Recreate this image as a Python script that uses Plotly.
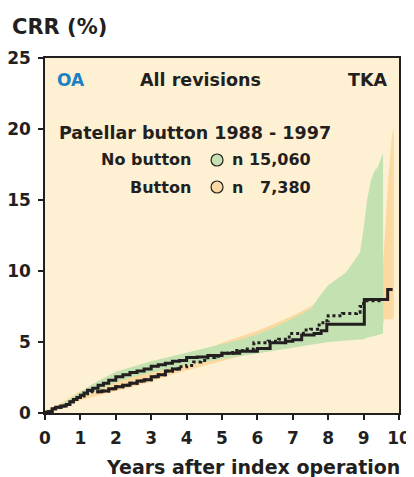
import plotly.graph_objects as go

# ---- data ----
# No button: 95% band (green)
nb_band_x = [0, 0.5, 1, 1.5, 2, 2.5, 3, 3.5, 4, 4.5, 5, 5.5, 6, 6.5, 7, 7.5, 7.75, 8, 8.5, 8.9, 9.0, 9.1, 9.2, 9.3, 9.4, 9.5, 9.55]
nb_band_hi = [0.1, 0.65, 1.5, 2.25, 2.9, 3.3, 3.65, 3.95, 4.25, 4.5, 4.8, 5.15, 5.55, 6.05, 6.65, 7.3, 8.2, 9.0, 9.9, 11.3, 13.0, 15.0, 16.3, 17.0, 17.3, 18.0, 18.3]
nb_band_lo = [0.0, 0.35, 1.05, 1.6, 2.15, 2.55, 2.85, 3.15, 3.4, 3.6, 3.8, 4.0, 4.2, 4.35, 4.55, 4.75, 4.9, 5.0, 5.1, 5.15, 5.2, 5.3, 5.35, 5.4, 5.5, 5.55, 5.6]

# Button: 95% band (orange)
b_band_x = [0, 0.5, 1, 1.5, 2, 2.5, 3, 3.5, 4, 4.5, 5, 5.5, 6, 6.5, 7, 7.5, 8, 8.5, 9, 9.55, 9.6, 9.7, 9.8, 9.85]
b_band_hi = [0.1, 0.75, 1.55, 1.9, 2.25, 2.6, 2.95, 3.45, 3.9, 4.4, 4.95, 5.35, 5.8, 6.3, 6.85, 7.5, 8.2, 9.0, 10.0, 10.5, 12.5, 16.5, 19.5, 20.2]
b_band_lo = [0.0, 0.3, 0.9, 1.25, 1.55, 1.85, 2.2, 2.65, 3.0, 3.3, 3.7, 4.0, 4.3, 4.55, 4.8, 5.05, 5.3, 5.55, 5.8, 6.3, 6.6, 6.6, 6.6, 6.6]

# No button: cumulative revision rate (solid)
nb_x = [0, 0.1, 0.2, 0.3, 0.45, 0.6, 0.7, 0.8, 0.9, 1.0, 1.1, 1.2, 1.35, 1.5, 1.65, 1.8, 2.0, 2.2, 2.4, 2.6, 2.8, 3.0, 3.2, 3.4, 3.6, 3.8, 4.0, 4.3, 4.6, 5.0, 5.5, 6.0, 6.36, 6.8, 7.0, 7.25, 7.6, 7.8, 7.96, 9.02, 9.68, 9.82]
nb_y = [0.05, 0.1, 0.3, 0.4, 0.5, 0.6, 0.8, 0.95, 1.1, 1.25, 1.4, 1.6, 1.75, 1.95, 2.1, 2.3, 2.55, 2.7, 2.85, 2.95, 3.1, 3.3, 3.4, 3.5, 3.65, 3.7, 3.9, 3.95, 4.05, 4.2, 4.35, 4.55, 4.95, 5.05, 5.15, 5.5, 5.6, 5.8, 6.25, 8.0, 8.7, 8.7]

# Button: cumulative revision rate (dotted)
b_x = [0, 0.1, 0.2, 0.3, 0.45, 0.6, 0.7, 0.8, 0.9, 1.0, 1.1, 1.2, 1.3, 1.45, 1.6, 1.8, 2.0, 2.2, 2.4, 2.6, 2.8, 3.0, 3.2, 3.4, 3.6, 3.8, 4.0, 4.2, 4.4, 4.6, 4.8, 5.0, 5.3, 5.6, 5.9, 6.3, 6.6, 6.9, 7.3, 7.5, 7.7, 7.85, 8.0, 8.4, 8.8, 8.9, 9.0, 9.55]
b_y = [0.05, 0.1, 0.3, 0.4, 0.5, 0.6, 0.8, 0.95, 1.1, 1.2, 1.35, 1.45, 1.5, 1.5, 1.55, 1.7, 1.85, 1.95, 2.1, 2.25, 2.35, 2.55, 2.7, 2.95, 3.1, 3.25, 3.35, 3.6, 3.7, 3.9, 4.0, 4.2, 4.4, 4.5, 4.95, 5.05, 5.2, 5.6, 5.85, 5.9, 6.2, 6.5, 6.85, 7.0, 7.1, 7.5, 7.9, 7.9]

x_ticks = [0, 1, 2, 3, 4, 5, 6, 7, 8, 9, 10]
y_ticks = [0, 5, 10, 15, 20, 25]

BG = "#FEF0D3"
ORANGE = "#FDD9A2"
GREEN = "#C3E1B1"
INK = "#231F20"
FONT = "DejaVu Sans"

fig = go.Figure()

# orange band
fig.add_trace(go.Scatter(x=b_band_x, y=b_band_lo, mode="lines", line=dict(width=0),
                         hoverinfo="skip", showlegend=False))
fig.add_trace(go.Scatter(x=b_band_x, y=b_band_hi, mode="lines", line=dict(width=0),
                         fill="tonexty", fillcolor=ORANGE, hoverinfo="skip", showlegend=False))
# green band
fig.add_trace(go.Scatter(x=nb_band_x, y=nb_band_lo, mode="lines", line=dict(width=0),
                         hoverinfo="skip", showlegend=False))
fig.add_trace(go.Scatter(x=nb_band_x, y=nb_band_hi, mode="lines", line=dict(width=0),
                         fill="tonexty", fillcolor=GREEN, hoverinfo="skip", showlegend=False))

# button line (dotted), with the dense middle stretch rendered solid as in the reference
fig.add_trace(go.Scatter(x=b_x, y=b_y, mode="lines", line=dict(color=INK, width=3, dash="dot", shape="hv"),
                         showlegend=False))
i0, i1 = b_x.index(1.45), b_x.index(3.8)
fig.add_trace(go.Scatter(x=b_x[i0:i1 + 1], y=b_y[i0:i1 + 1], mode="lines",
                         line=dict(color=INK, width=3, shape="hv"), showlegend=False))
# no button line (solid)
fig.add_trace(go.Scatter(x=nb_x, y=nb_y, mode="lines", line=dict(color=INK, width=3, shape="hv"),
                         showlegend=False))

fig.update_layout(
    width=406, height=469,
    margin=dict(l=37, r=15, t=50, b=64),
    paper_bgcolor="white", plot_bgcolor=BG,
    font=dict(family=FONT, color=INK),
    showlegend=False,
)
axis_common = dict(ticks="outside", ticklen=5, tickwidth=1.5, tickcolor=INK, showline=True,
                   linecolor=INK, linewidth=1.5, mirror=True, showgrid=False, zeroline=False,
                   tickfont=dict(size=17, family=FONT, color=INK, weight="bold"),
                   ticklabelstandoff=4, automargin=False)
fig.update_xaxes(range=[0, 10], tickvals=x_ticks, **axis_common)
fig.update_yaxes(range=[0, 25], tickvals=y_ticks, **axis_common)

def ann(text, x, y, xanchor, size, color=INK):
    fig.add_annotation(text=f"<b>{text}</b>", x=x, y=y, xref="paper", yref="paper",
                       xanchor=xanchor, yanchor="middle", showarrow=False,
                       font=dict(size=size, family=FONT, color=color))

ann("CRR (%)", -0.099, 1.087, "left", 21)
ann("Years after index operation", 1.0085, -0.152, "right", 19)
ann("OA", 0.028, 0.938, "left", 17, color="#1A80C4")
ann("All revisions", 0.438, 0.938, "center", 17.5)
ann("TKA", 0.972, 0.938, "right", 17.5)
ann("Patellar button 1988 - 1997", 0.034, 0.7896, "left", 17.5)
ann("No button", 0.418, 0.7127, "right", 16)
ann("Button", 0.418, 0.6366, "right", 16)
ann("n 15,060", 0.5226, 0.7127, "left", 16)
ann("n\u00a0\u00a0\u00a07,380", 0.5226, 0.6366, "left", 16)

for yy, col in [(0.7127, GREEN), (0.6366, ORANGE)]:
    fig.add_shape(type="circle", xref="paper", yref="paper", xsizemode="pixel", ysizemode="pixel",
                  xanchor=0.486, yanchor=yy, x0=-6, x1=6, y0=-6, y1=6,
                  fillcolor=col, line=dict(color=INK, width=1.2))

fig.write_html("out.html")
